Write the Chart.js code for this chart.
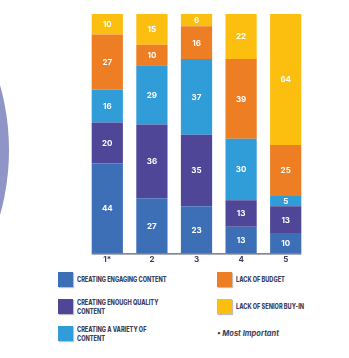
<!DOCTYPE html>
<html>
<head>
<meta charset="utf-8">
<script src="https://cdn.jsdelivr.net/npm/chart.js@4"></script>
<style>
  body { margin: 0; background: #fff; font-family: Inter, "Open Sans", sans-serif; }
  #wrap { position: relative; width: 349px; height: 358px; }
  #c { position: absolute; left: 0; top: 0; }
  .item { position: absolute; display: flex; align-items: center; }
  .sw { width: 15px; height: 15px; flex: none; margin-right: 4px; box-shadow: 1px 1px 1px rgba(0,0,0,0.25); }
  .lb { font-size: 7px; font-weight: 800; color: #3a4058; line-height: 9px; transform: scaleX(0.8); transform-origin: left center; white-space: nowrap; }
  .note { position: absolute; left: 217px; top: 329px; font-size: 7.5px; font-weight: 700; font-style: italic; color: #3a4058; }
</style>
</head>
<body>
<div id="wrap">
  <canvas id="c" width="349" height="265"></canvas>
  <div id="legend"></div>
  <div class="note">• Most Important</div>
</div>
<script>
const ranks = ['1*', '2', '3', '4', '5'];
const engaging = [44, 27, 23, 13, 10];
const quality = [20, 36, 35, 13, 13];
const variety = [16, 29, 37, 30, 5];
const budget = [27, 10, 16, 39, 25];
const buyIn = [10, 15, 6, 22, 64];

const seriesNames = ['CREATING ENGAGING CONTENT', 'CREATING ENOUGH QUALITY CONTENT', 'CREATING A VARIETY OF CONTENT', 'LACK OF BUDGET', 'LACK OF SENIOR BUY-IN'];
const seriesColors = ['#3d6fb7', '#4f4697', '#309dd8', '#ee7e24', '#fcbf10'];
const seriesData = [engaging, quality, variety, budget, buyIn];

// white numbers inside each segment
const segmentLabels = {
  id: 'segmentLabels',
  afterDatasetsDraw(chart) {
    const ctx = chart.ctx;
    ctx.save();
    ctx.fillStyle = '#fff';
    ctx.font = 'bold 8px Inter, "Open Sans", sans-serif';
    ctx.textAlign = 'center';
    ctx.textBaseline = 'middle';
    chart.data.datasets.forEach((ds, i) => {
      chart.getDatasetMeta(i).data.forEach((bar, j) => {
        const mid = (bar.y + bar.base) / 2;
        ctx.fillText(ds.data[j], bar.x, mid + 0.5);
      });
    });
    // baseline under the bars
    const bars = chart.getDatasetMeta(0).data;
    const first = bars[0], last = bars[bars.length - 1];
    ctx.strokeStyle = '#5a5f70';
    ctx.lineWidth = 1.2;
    ctx.beginPath();
    ctx.moveTo(first.x - first.width / 2, chart.chartArea.bottom + 0.5);
    ctx.lineTo(last.x + last.width / 2, chart.chartArea.bottom + 0.5);
    ctx.stroke();
    ctx.restore();
  }
};

// decorative circle at the left edge
const sideCircle = {
  id: 'sideCircle',
  beforeDraw(chart) {
    const ctx = chart.ctx;
    ctx.save();
    ctx.fillStyle = '#8f95c6';
    ctx.beginPath();
    ctx.arc(-230, 150, 239, 0, Math.PI * 2);
    ctx.fill();
    ctx.restore();
  }
};

new Chart(document.getElementById('c'), {
  type: 'bar',
  data: {
    labels: ranks,
    datasets: seriesData.map((d, i) => ({
      label: seriesNames[i],
      data: d,
      backgroundColor: seriesColors[i],
      borderWidth: 0,
      barPercentage: 0.7,
      categoryPercentage: 1
    }))
  },
  options: {
    responsive: false,
    animation: false,
    layout: { padding: { left: 85, right: 41, top: 14, bottom: 0 } },
    plugins: { legend: { display: false }, tooltip: { enabled: false } },
    scales: {
      x: {
        stacked: true,
        grid: { display: false, drawTicks: false },
        border: { display: false },
        ticks: { color: '#3a4058', font: { size: 8, weight: 'bold', family: 'Inter' }, padding: 1 }
      },
      y: {
        stacked: true,
        display: false,
        min: 0,
        max: 117
      }
    }
  },
  plugins: [sideCircle, segmentLabels]
});

// HTML legend built from the series
const spots = [[58, 272], [58, 299], [58, 326], [217, 272], [217, 299]];
const legend = document.getElementById('legend');
seriesNames.forEach((name, i) => {
  const el = document.createElement('div');
  el.className = 'item';
  el.style.left = spots[i][0] + 'px';
  el.style.top = spots[i][1] + 'px';
  el.style.height = '15px';
  const wrapText = name === 'CREATING ENOUGH QUALITY CONTENT' ? 'CREATING ENOUGH QUALITY<br>CONTENT'
    : name === 'CREATING A VARIETY OF CONTENT' ? 'CREATING A VARIETY OF<br>CONTENT' : name;
  el.innerHTML = '<div class="sw" style="background:' + seriesColors[i] + '"></div><div class="lb">' + wrapText + '</div>';
  legend.appendChild(el);
});
</script>
</body>
</html>
